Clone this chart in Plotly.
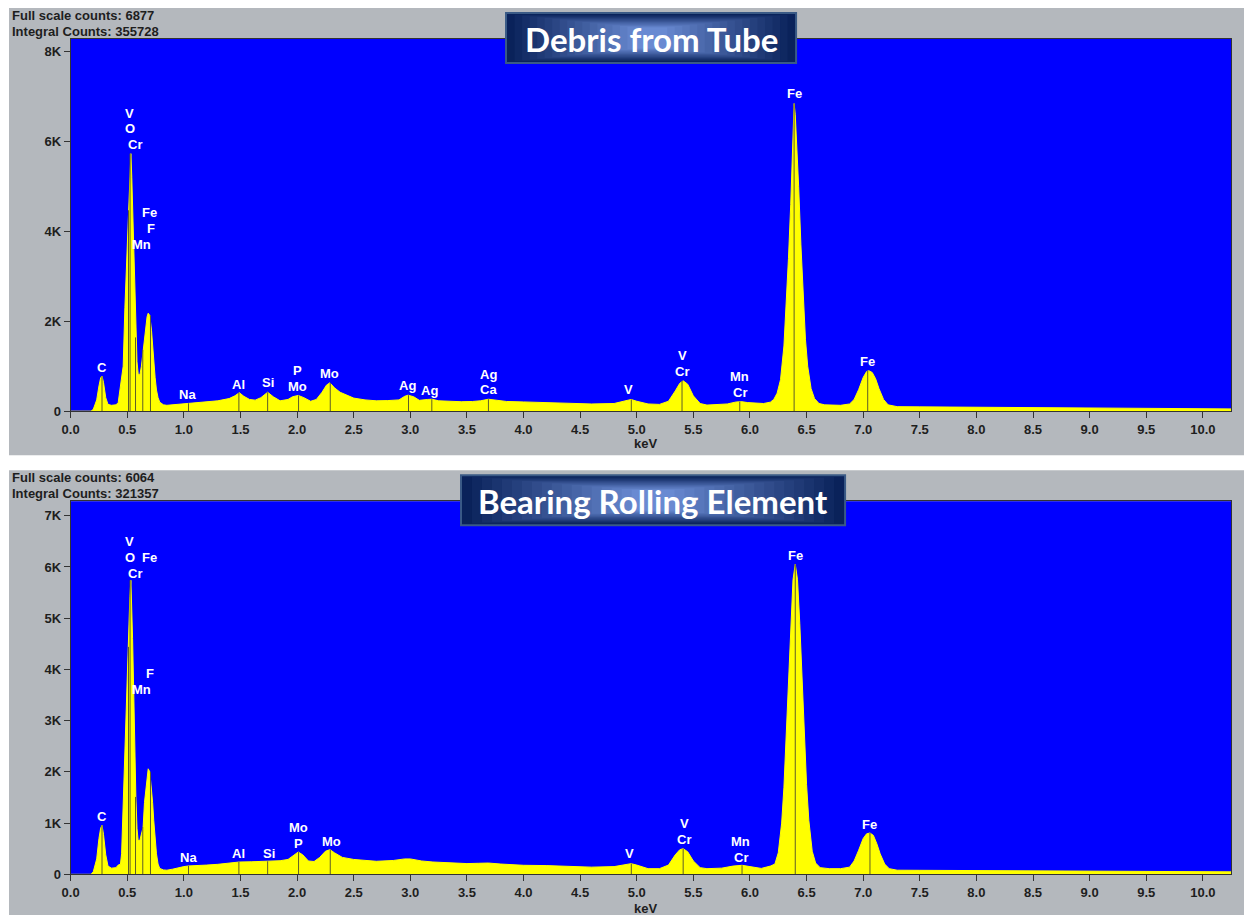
import plotly.graph_objects as go

# ---------------- DATA ----------------
top_kev = [0.00, 0.18, 0.20, 0.23, 0.25, 0.265, 0.277, 0.29, 0.31, 0.33, 0.36, 0.40, 0.42, 0.435, 0.45,
           0.464, 0.479, 0.494, 0.508, 0.523, 0.532, 0.540, 0.547, 0.558, 0.566, 0.576, 0.586, 0.596,
           0.611, 0.625, 0.640, 0.652, 0.664, 0.675, 0.685, 0.699, 0.714, 0.724, 0.734, 0.746, 0.758,
           0.772, 0.787, 0.82, 0.85, 0.90, 0.95, 1.00, 1.04, 1.10, 1.20, 1.30, 1.40, 1.45, 1.49, 1.53,
           1.58, 1.63, 1.68, 1.74, 1.79, 1.85, 1.92, 1.96, 2.01, 2.06, 2.12, 2.17, 2.22, 2.26, 2.29,
           2.33, 2.38, 2.44, 2.50, 2.60, 2.70, 2.80, 2.90, 2.95, 2.98, 3.03, 3.08, 3.15, 3.19, 3.25,
           3.35, 3.45, 3.55, 3.62, 3.69, 3.75, 3.85, 4.00, 4.20, 4.40, 4.60, 4.80, 4.90, 4.95, 5.00,
           5.10, 5.20, 5.28, 5.34, 5.38, 5.41, 5.45, 5.50, 5.56, 5.62, 5.70, 5.80, 5.88, 5.93, 5.98,
           6.05, 6.12, 6.18, 6.21, 6.24, 6.27, 6.30, 6.32, 6.34, 6.36, 6.37, 6.38, 6.39, 6.40, 6.41,
           6.43, 6.45, 6.47, 6.49, 6.51, 6.54, 6.57, 6.61, 6.66, 6.72, 6.80, 6.88, 6.92, 6.96, 7.00,
           7.03, 7.05, 7.08, 7.11, 7.14, 7.18, 7.22, 7.30, 7.50, 8.00, 8.50, 9.00, 9.50, 10.00, 10.25]
top_counts = [0, 0, 40, 250, 560, 740, 780, 640, 300, 150, 130, 140, 190, 470, 700,
              1000, 2300, 3350, 4470, 5400, 5730, 5200, 4580, 3500, 2600, 1640, 1100, 840,
              800, 1000, 1360, 1700, 1950, 2100, 2180, 2130, 1800, 1450, 1070, 750, 470,
              300, 200, 140, 130, 140, 150, 160, 175, 175, 200, 230, 280, 340, 410, 330,
              260, 245, 300, 420, 320, 230, 260, 320, 350, 300, 220, 260, 420, 580, 630,
              520, 420, 350, 290, 250, 230, 235, 250, 330, 355, 320, 240, 260, 265, 230,
              215, 210, 215, 230, 265, 240, 215, 205, 195, 180, 160, 170, 230, 260, 220,
              160, 150, 220, 450, 620, 675, 600, 340, 170, 135, 140, 160, 205, 210, 190,
              175, 170, 200, 260, 400, 700, 1450, 2300, 3400, 4600, 5500, 6300, 6844, 6600, 6100,
              5000, 3700, 2500, 1600, 1000, 500, 280, 170, 140, 130, 130, 160, 260, 480, 750,
              880, 900, 860, 720, 500, 260, 140, 100, 95, 85, 75, 70, 60, 55, 50]

bot_kev = [0.00, 0.18, 0.20, 0.23, 0.25, 0.265, 0.277, 0.29, 0.31, 0.33, 0.36, 0.40, 0.42, 0.44, 0.45,
           0.464, 0.479, 0.494, 0.508, 0.523, 0.532, 0.540, 0.547, 0.558, 0.566, 0.576, 0.586, 0.596,
           0.611, 0.625, 0.640, 0.652, 0.664, 0.675, 0.685, 0.699, 0.714, 0.724, 0.734, 0.746, 0.758,
           0.772, 0.787, 0.82, 0.85, 0.90, 0.95, 1.00, 1.04, 1.10, 1.20, 1.30, 1.40, 1.49, 1.60, 1.74,
           1.85, 1.92, 1.97, 2.01, 2.05, 2.10, 2.15, 2.20, 2.25, 2.29, 2.33, 2.40, 2.50, 2.60, 2.70,
           2.85, 2.95, 3.00, 3.10, 3.20, 3.35, 3.50, 3.60, 3.69, 3.80, 4.00, 4.20, 4.40, 4.60, 4.80,
           4.90, 4.95, 5.00, 5.10, 5.20, 5.28, 5.34, 5.38, 5.41, 5.45, 5.50, 5.56, 5.62, 5.75, 5.85,
           5.93, 6.00, 6.10, 6.18, 6.22, 6.25, 6.28, 6.30, 6.32, 6.34, 6.36, 6.38, 6.40, 6.42, 6.44,
           6.46, 6.48, 6.50, 6.52, 6.55, 6.58, 6.62, 6.70, 6.80, 6.88, 6.92, 6.96, 7.00, 7.03, 7.06,
           7.09, 7.12, 7.15, 7.19, 7.23, 7.30, 7.50, 8.00, 8.50, 9.00, 9.50, 10.00, 10.25]
bot_counts = [0, 0, 50, 300, 700, 900, 957, 780, 380, 160, 120, 130, 180, 200, 400,
              1410, 2360, 3340, 4440, 5420, 5740, 5200, 4600, 3460, 2500, 1510, 900, 660,
              660, 780, 920, 1400, 1700, 1950, 2060, 2000, 1700, 1400, 1050, 700, 400,
              200, 115, 85, 80, 100, 130, 150, 163, 165, 180, 195, 215, 240, 245, 254,
              265, 290, 380, 435, 380, 260, 250, 330, 450, 482, 420, 330, 290, 265, 254,
              270, 300, 300, 260, 240, 225, 209, 215, 220, 200, 176, 170, 150, 140, 150,
              190, 208, 180, 110, 110, 180, 380, 480, 500, 440, 260, 130, 110, 120, 160,
              176, 150, 115, 160, 200, 420, 1000, 1700, 2700, 3800, 4900, 5750, 6055, 5750, 4900,
              3800, 2700, 1750, 1050, 450, 220, 130, 110, 110, 140, 260, 470, 700, 790, 807,
              760, 600, 400, 200, 110, 80, 78, 70, 65, 60, 55, 50, 48]

# element marker lines (energy keV, line height counts)
top_mark_kev = [0.277, 0.511, 0.525, 0.573, 0.637, 0.705, 1.041, 1.486, 1.740, 2.013, 2.293,
                2.984, 3.19, 3.69, 4.952, 5.40, 5.91, 6.39, 7.04]
top_mark_h = [780, 4470, 5730, 1640, 1360, 2130, 175, 410, 420, 350, 630,
              355, 265, 265, 260, 675, 210, 6844, 900]
bot_mark_kev = [0.277, 0.511, 0.525, 0.573, 0.637, 0.705, 1.041, 1.486, 1.740, 2.013, 2.293,
                4.952, 5.41, 5.93, 6.40, 7.06]
bot_mark_h = [957, 4440, 5740, 1510, 920, 2000, 163, 240, 254, 435, 482,
              208, 500, 176, 6055, 807]

# element labels (text, keV, counts position)
top_lab_text = ["C", "V", "O", "Cr", "Fe", "F", "Mn", "Na", "Al", "Si", "P", "Mo", "Mo", "Ag", "Ag",
                "Ag", "Ca", "V", "V", "Cr", "Mn", "Cr", "Fe", "Fe"]
top_lab_kev = [0.277, 0.523, 0.523, 0.567, 0.70, 0.708, 0.63, 1.034, 1.484, 1.74, 2.004, 2.004, 2.286,
               2.975, 3.17, 3.69, 3.69, 4.93, 5.40, 5.40, 5.91, 5.91, 6.39, 7.04]
top_lab_y = [980, 6620, 6290, 5930, 4420, 4070, 3710, 360, 600, 640, 910, 555, 845, 580, 470,
             820, 490, 490, 1240, 890, 780, 420, 7070, 1110]

bot_lab_text = ["C", "V", "O", "Fe", "Cr", "F", "Mn", "Na", "Al", "Si", "Mo", "P", "Mo", "V", "V",
                "Cr", "Mn", "Cr", "Fe", "Fe"]
bot_lab_kev = [0.277, 0.523, 0.523, 0.70, 0.567, 0.70, 0.63, 1.04, 1.484, 1.75, 2.01, 2.01, 2.30,
               4.94, 5.42, 5.42, 5.92, 5.92, 6.40, 7.06]
bot_lab_y = [1130, 6500, 6190, 6190, 5880, 3930, 3610, 330, 410, 410, 920, 605, 645, 410, 1000,
             685, 645, 330, 6230, 980]

x_tick_vals = [i * 0.5 for i in range(21)]
x_tick_text = ["%.1f" % v for v in x_tick_vals]
top_y_vals = [0, 2000, 4000, 6000, 8000]
top_y_text = ["0", "2K", "4K", "6K", "8K"]
bot_y_vals = [0, 1000, 2000, 3000, 4000, 5000, 6000, 7000]
bot_y_text = ["0", "1K", "2K", "3K", "4K", "5K", "6K", "7K"]

titles = ["Debris from Tube", "Bearing Rolling Element"]
headers = [["Full scale counts: 6877", "Integral Counts: 355728"],
           ["Full scale counts: 6064", "Integral Counts: 321357"]]

# ---------------- LAYOUT HELPERS ----------------
# positions below are given in screenshot pixels; convert to figure paper coords
W, H = 1244, 924
SX, OX, SY = 0.9926, 9.06, 0.991
def px(x):
    return ((x - OX) / SX) / W
def py(y):
    return 1 - (y / SY) / H

BLUE = "#0000ff"
YEL = "#ffff00"
GRAY = "#b4b8bd"
FONT = "Liberation Sans"

fig = go.Figure()

panels = [
    dict(kev=top_kev, cnt=top_counts, mk=top_mark_kev, mh=top_mark_h, lt=top_lab_text, lk=top_lab_kev,
         ly=top_lab_y, yr=[0, 8280], dom_y=[py(411), py(39)],
         xa="x", ya="y", box=(505, 12, 797, 64), gray=(8, 8, 1250, 455), hdr_y=(15, 31), kev_y=443),
    dict(kev=bot_kev, cnt=bot_counts, mk=bot_mark_kev, mh=bot_mark_h, lt=bot_lab_text, lk=bot_lab_kev,
         ly=bot_lab_y, yr=[0, 7285], dom_y=[py(874), py(501)],
         xa="x2", ya="y2", box=(460, 474, 846, 526), gray=(8, 470, 1250, 920), hdr_y=(477, 493), kev_y=908),
]

shapes = []
annotations = []

for i, p in enumerate(panels):
    g = p["gray"]
    shapes.append(dict(type="rect", xref="paper", yref="paper", layer="below",
                       x0=max(px(g[0]), 0), x1=min(px(g[2]), 1), y0=max(py(g[3]), 0), y1=py(g[1]),
                       fillcolor=GRAY, line=dict(width=0)))
    shapes.append(dict(type="rect", xref=p["xa"] + " domain", yref=p["ya"] + " domain", layer="below",
                       x0=0, x1=1, y0=0, y1=1, fillcolor=BLUE, line=dict(width=0)))
    fig.add_trace(go.Scatter(x=p["kev"], y=p["cnt"], mode="lines", fill="tozeroy",
                             fillcolor=YEL, line=dict(color=YEL, width=1),
                             xaxis=p["xa"], yaxis=p["ya"], hoverinfo="x+y", showlegend=False))
    mx, my = [], []
    for k, h in zip(p["mk"], p["mh"]):
        mx += [k, k, None]
        my += [0, h, None]
    fig.add_trace(go.Scatter(x=mx, y=my, mode="lines", line=dict(color="#5e5e28", width=1),
                             xaxis=p["xa"], yaxis=p["ya"], hoverinfo="skip", showlegend=False))
    for t, k, yy in zip(p["lt"], p["lk"], p["ly"]):
        annotations.append(dict(x=k, y=yy, xref=p["xa"], yref=p["ya"], text=t, showarrow=False,
                                font=dict(family=FONT, size=13, color="white", weight="bold"),
                                xanchor="center", yanchor="middle"))
    for txt, yy in zip(headers[i], p["hdr_y"]):
        annotations.append(dict(x=px(10), y=py(yy), xref="paper", yref="paper", text=txt,
                                showarrow=False, xanchor="left", yanchor="middle",
                                font=dict(family=FONT, size=13, color="#1e1e1e", weight="bold")))
    annotations.append(dict(x=px(645), y=py(p["kev_y"]), xref="paper", yref="paper", text="keV",
                            showarrow=False, xanchor="center", yanchor="middle",
                            font=dict(family=FONT, size=13, color="#1e1e1e", weight="bold")))
    bx0, by0, bx1, by1 = p["box"]
    shapes.append(dict(type="rect", xref="paper", yref="paper", layer="above",
                       x0=px(bx0), x1=px(bx1), y0=py(by1), y1=py(by0),
                       fillcolor="#3a5a86", line=dict(width=0)))
    n = 18
    bw, bh = bx1 - bx0 - 4, by1 - by0 - 4
    for s in range(n):
        t = s / (n - 1)
        r = int(10 + (105 - 10) * t)
        gg = int(34 + (138 - 34) * t)
        b = int(90 + (210 - 90) * t)
        ix = s * (bw * 0.47 / n)
        iy = s * (bh * 0.30 / n)
        shapes.append(dict(type="rect", xref="paper", yref="paper", layer="above",
                           x0=px(bx0 + 2 + ix), x1=px(bx1 - 2 - ix),
                           y0=py(by1 - 2 - iy), y1=py(by0 + 2 + iy),
                           fillcolor="rgb(%d,%d,%d)" % (r, gg, b), line=dict(width=0)))
    annotations.append(dict(x=px((bx0 + bx1) / 2), y=py((by0 + by1) / 2 + 1), xref="paper", yref="paper",
                            text=titles[i], showarrow=False, xanchor="center", yanchor="middle",
                            font=dict(family="Lato", size=33, color="white", weight="bold")))

axis_common_x = dict(range=[0, 10.25], tickmode="array", tickvals=x_tick_vals, ticktext=x_tick_text,
                     ticks="outside", ticklen=6, tickcolor="#333", tickwidth=1,
                     tickfont=dict(family=FONT, size=13, color="#1e1e1e", weight="bold"),
                     showgrid=False, zeroline=False, showline=True, linecolor="#333", linewidth=1,
                     mirror=True, domain=[px(70.7), px(1231)], fixedrange=True)
axis_common_y = dict(tickmode="array", ticks="outside", ticklen=6, tickcolor="#333", tickwidth=1,
                     tickfont=dict(family=FONT, size=13, color="#1e1e1e", weight="bold"),
                     showgrid=False, zeroline=False, showline=True, linecolor="#333", linewidth=1,
                     mirror=True, fixedrange=True)

fig.update_layout(
    width=W, height=H, margin=dict(l=0, r=0, t=0, b=0),
    paper_bgcolor="white", plot_bgcolor=BLUE,
    xaxis=dict(**axis_common_x, anchor="y"),
    yaxis=dict(**axis_common_y, range=panels[0]["yr"], tickvals=top_y_vals, ticktext=top_y_text,
               domain=panels[0]["dom_y"], anchor="x"),
    xaxis2=dict(**axis_common_x, anchor="y2"),
    yaxis2=dict(**axis_common_y, range=panels[1]["yr"], tickvals=bot_y_vals, ticktext=bot_y_text,
                domain=panels[1]["dom_y"], anchor="x2"),
    shapes=shapes, annotations=annotations, showlegend=False,
)

fig.write_html("out.html", config={"displayModeBar": False},
               post_script="document.body.style.margin='0px';document.body.style.overflow='hidden';")
